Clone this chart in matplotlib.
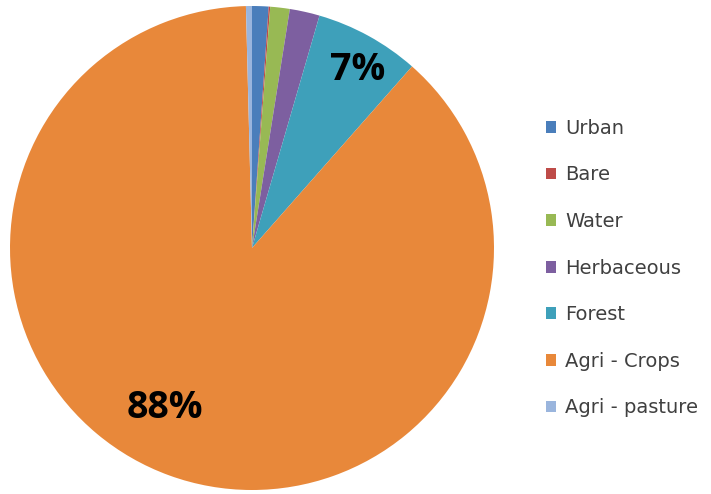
import matplotlib
matplotlib.use("Agg")
import matplotlib.pyplot as plt
from matplotlib.patches import Patch

categories = ["Urban", "Bare", "Water", "Herbaceous", "Forest", "Agri - Crops", "Agri - pasture"]
values = [1.1, 0.1, 1.3, 2.0, 7.0, 88.1, 0.4]
colors = ["#4A7EBB", "#BE4B48", "#98B954", "#7D5FA0", "#3EA0BA", "#E8883A", "#9AB5DD"]
shown_labels = {"Forest": "7%", "Agri - Crops": "88%"}

plt.rcParams['font.family'] = ['Open Sans', 'DejaVu Sans']

fig = plt.figure(figsize=(7.11, 4.94), dpi=100)
W, H = 711, 494
cx, cy, r = 252, 248, 242
ax = fig.add_axes([(cx - r) / W, (H - cy - r) / H, 2 * r / W, 2 * r / H])
wedges, _ = ax.pie(values, colors=colors, startangle=90, counterclock=False,
                   radius=1.0, wedgeprops=dict(linewidth=0))
ax.set_xlim(-1, 1)
ax.set_ylim(-1, 1)
ax.set_aspect('equal')
ax.axis('off')

# data labels (Excel best-fit positions)
label_pos = {"Forest": (0.435, 0.735), "Agri - Crops": (-0.36, -0.66)}
for cat in categories:
    if cat in shown_labels:
        x, y = label_pos[cat]
        ax.text(x, y, shown_labels[cat], ha='center', va='center',
                fontsize=27, fontweight='bold', color='black')

handles = [Patch(facecolor=c, edgecolor='none') for c in colors]
leg = fig.legend(handles, categories, loc='upper left',
                 bbox_to_anchor=(538 / W, 1 - 111 / H), frameon=False,
                 prop=dict(family='DejaVu Sans', size=14),
                 labelspacing=1.42, handlelength=0.55,
                 handleheight=0.55, handletextpad=0.45, borderaxespad=0)
for t in leg.get_texts():
    t.set_color('#404040')

fig.savefig("out.png", dpi=100)
